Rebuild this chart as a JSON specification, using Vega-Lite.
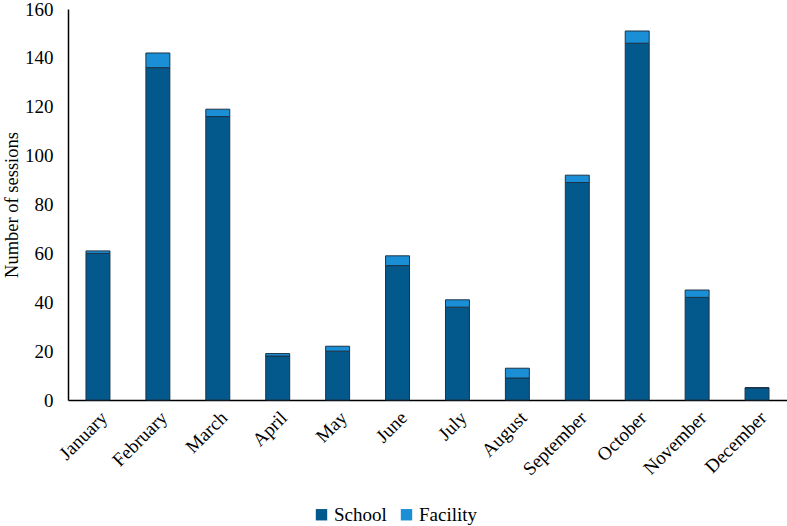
{
  "$schema": "https://vega.github.io/schema/vega-lite/v6.json",
  "autosize": {"type": "none"},
  "padding": {"left": 68, "top": 9, "right": 0, "bottom": 126},
  "width": 719,
  "height": 391,
  "background": "white",
  "data": {
    "values": [
      {"month": "January", "type": "School", "ord": 1, "sessions": 60},
      {"month": "January", "type": "Facility", "ord": 2, "sessions": 1},
      {"month": "February", "type": "School", "ord": 1, "sessions": 136},
      {"month": "February", "type": "Facility", "ord": 2, "sessions": 6},
      {"month": "March", "type": "School", "ord": 1, "sessions": 116},
      {"month": "March", "type": "Facility", "ord": 2, "sessions": 3},
      {"month": "April", "type": "School", "ord": 1, "sessions": 18},
      {"month": "April", "type": "Facility", "ord": 2, "sessions": 1},
      {"month": "May", "type": "School", "ord": 1, "sessions": 20},
      {"month": "May", "type": "Facility", "ord": 2, "sessions": 2},
      {"month": "June", "type": "School", "ord": 1, "sessions": 55},
      {"month": "June", "type": "Facility", "ord": 2, "sessions": 4},
      {"month": "July", "type": "School", "ord": 1, "sessions": 38},
      {"month": "July", "type": "Facility", "ord": 2, "sessions": 3},
      {"month": "August", "type": "School", "ord": 1, "sessions": 9},
      {"month": "August", "type": "Facility", "ord": 2, "sessions": 4},
      {"month": "September", "type": "School", "ord": 1, "sessions": 89},
      {"month": "September", "type": "Facility", "ord": 2, "sessions": 3},
      {"month": "October", "type": "School", "ord": 1, "sessions": 146},
      {"month": "October", "type": "Facility", "ord": 2, "sessions": 5},
      {"month": "November", "type": "School", "ord": 1, "sessions": 42},
      {"month": "November", "type": "Facility", "ord": 2, "sessions": 3},
      {"month": "December", "type": "School", "ord": 1, "sessions": 5},
      {"month": "December", "type": "Facility", "ord": 2, "sessions": 0}
    ]
  },
  "mark": {"type": "bar", "stroke": "#1c3347", "strokeWidth": 1},
  "encoding": {
    "x": {
      "field": "month",
      "type": "nominal",
      "sort": null,
      "scale": {"paddingInner": 0.6, "paddingOuter": 0.3},
      "axis": {
        "title": null,
        "labelAngle": -45,
        "labelAlign": "right",
        "labelBaseline": "top",
        "labelFontSize": 19,
        "labelLimit": 300,
        "ticks": false,
        "labelPadding": 8
      }
    },
    "y": {
      "field": "sessions",
      "type": "quantitative",
      "aggregate": "sum",
      "stack": "zero",
      "scale": {"domain": [0, 160], "nice": false},
      "axis": {
        "title": "Number of sessions",
        "titleFontSize": 18.5,
        "titlePadding": 3,
        "labelFontSize": 19,
        "values": [0, 20, 40, 60, 80, 100, 120, 140, 160],
        "grid": false,
        "ticks": false,
        "labelPadding": 15
      }
    },
    "color": {
      "field": "type",
      "type": "nominal",
      "scale": {"domain": ["School", "Facility"], "range": ["#04598C", "#1A8FD6"]},
      "legend": {
        "title": null,
        "orient": "none",
        "legendX": 244,
        "legendY": 496,
        "direction": "horizontal",
        "symbolType": "square",
        "symbolSize": 130,
        "symbolStrokeWidth": 0,
        "labelFontSize": 19,
        "labelOffset": 3,
        "columnPadding": 10
      }
    },
    "order": {"field": "ord", "type": "quantitative"}
  },
  "config": {
    "font": "Liberation Serif",
    "view": {"stroke": null},
    "axis": {
      "labelFont": "Liberation Serif",
      "titleFont": "Liberation Serif",
      "labelColor": "#000000",
      "titleColor": "#000000",
      "titleFontWeight": "normal",
      "domainColor": "#000000",
      "domainWidth": 1.5
    },
    "legend": {
      "labelFont": "Liberation Serif",
      "labelColor": "#000000"
    }
  }
}
